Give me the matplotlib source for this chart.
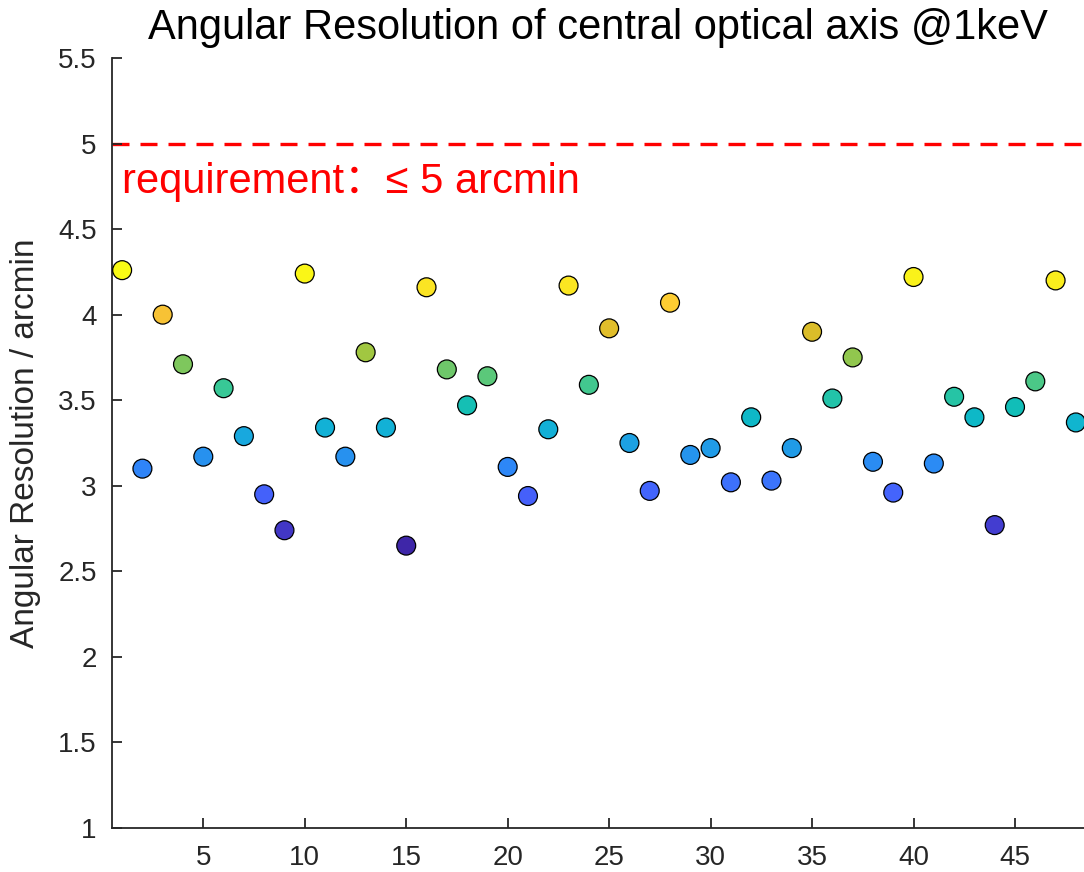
import numpy as np
import matplotlib
matplotlib.use('Agg')
import matplotlib.pyplot as plt
from matplotlib.colors import LinearSegmentedColormap
from matplotlib.ticker import FormatStrFormatter

plt.rcParams['font.family'] = ['Liberation Sans', 'Noto Sans CJK SC', 'DejaVu Sans']

# valores
idx = np.arange(1, 49)
res = [4.26, 3.10, 4.00, 3.71, 3.17, 3.57, 3.29, 2.95, 2.74, 4.24,
       3.34, 3.17, 3.78, 3.34, 2.65, 4.16, 3.68, 3.47, 3.64, 3.11,
       2.94, 3.33, 4.17, 3.59, 3.92, 3.25, 2.97, 4.07, 3.18, 3.22,
       3.02, 3.40, 3.03, 3.22, 3.90, 3.51, 3.75, 3.14, 2.96, 4.22,
       3.13, 3.52, 3.40, 2.77, 3.46, 3.61, 4.20, 3.37]
requirement = 5.0
req_label = 'requirement：≤ 5 arcmin'
title = 'Angular Resolution of central optical axis @1keV'
ylabel = 'Angular Resolution / arcmin'

# mapa parula (aprox.)
parula_pts = [
    (0.0000, (0.2422, 0.1504, 0.6603)),
    (0.1429, (0.2810, 0.3228, 0.9579)),
    (0.2063, (0.2602, 0.4123, 0.9952)),
    (0.2857, (0.1786, 0.5289, 0.9682)),
    (0.4286, (0.0689, 0.6948, 0.8394)),
    (0.4921, (0.0433, 0.7411, 0.7394)),
    (0.5714, (0.2161, 0.7843, 0.5923)),
    (0.7143, (0.6720, 0.7793, 0.2227)),
    (0.7778, (0.8634, 0.7406, 0.1596)),
    (0.8571, (0.9970, 0.7659, 0.2199)),
    (1.0000, (0.9769, 0.9839, 0.0805)),
]
parula = LinearSegmentedColormap.from_list('parula', parula_pts)

fig = plt.figure(figsize=(10.84, 8.72), dpi=100)
ax = fig.add_axes([0.1033, 0.0505, 0.8967, 0.883])

ax.axhline(requirement, color='red', lw=2.4, dashes=(5.1, 3.3), zorder=1)
ax.scatter(idx, res, c=res, cmap=parula, s=185, edgecolors='black',
           linewidths=0.9, zorder=3)

ax.text(1.0, 4.71, req_label, color='red', fontsize=30, va='baseline')

ax.set_xlim(0.5, 48.4)
ax.set_ylim(1, 5.5)
ax.set_xticks(np.arange(5, 50, 5))
ax.set_yticks(np.arange(1, 5.51, 0.5))
ax.yaxis.set_major_formatter(FormatStrFormatter('%g'))

for s in ['top', 'right']:
    ax.spines[s].set_visible(False)
for s in ['left', 'bottom']:
    ax.spines[s].set_color('#262626')
    ax.spines[s].set_linewidth(1.3)

ax.tick_params(direction='in', length=7, width=1.3, color='#262626',
               labelcolor='#262626', labelsize=20)
ax.tick_params(axis='x', pad=12)
ax.tick_params(axis='y', pad=11)

ax.set_ylabel(ylabel, fontsize=24, color='#262626', labelpad=12)
ax.set_title(title, fontsize=30, pad=14)

fig.savefig('out.png', dpi=100)
